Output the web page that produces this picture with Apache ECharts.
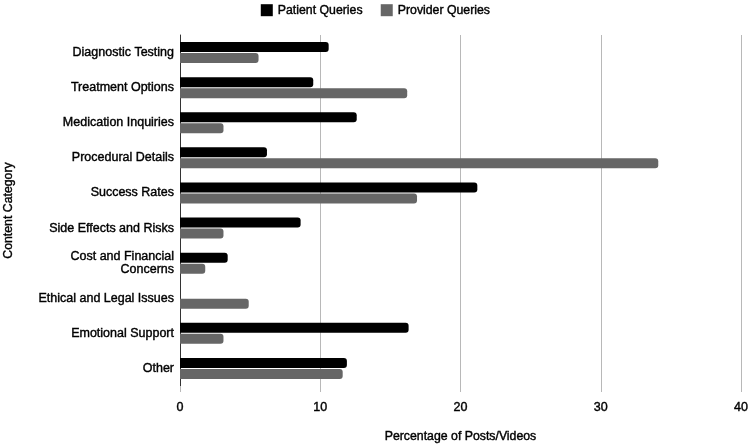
<!DOCTYPE html>
<html>
<head>
<meta charset="UTF-8">
<script src="https://cdn.jsdelivr.net/npm/echarts@6/dist/echarts.min.js"></script>
<title>Content Category</title>
<style>
  html, body { margin: 0; padding: 0; background: #fff; }
  #container { width: 751px; height: 444px; }
</style>
</head>
<body>
<div id="container"></div>
<script>
// data (percent of posts/videos)
var categories = ['Diagnostic Testing', 'Treatment Options', 'Medication Inquiries', 'Procedural Details',
  'Success Rates', 'Side Effects and Risks', 'Cost and Financial\nConcerns', 'Ethical and Legal Issues',
  'Emotional Support', 'Other'];
var patientQueries = [10.6, 9.5, 12.6, 6.2, 21.2, 8.6, 3.4, 0, 16.3, 11.9];
var providerQueries = [5.6, 16.2, 3.1, 34.1, 16.9, 3.1, 1.8, 4.9, 3.1, 11.6];
var xTicks = [0, 10, 20, 30, 40];

var font = 'Arial, "Liberation Sans", sans-serif';
var txt = '#000';
// text in the original looks a bit heavier than plain Arial, thicken it slightly
var heavy = { textBorderColor: '#000', textBorderWidth: 0.4 };
var myChart = echarts.init(document.getElementById('container'));

var option = {
  textStyle: { fontFamily: font },
  legend: {
    top: -1,
    left: 'center',
    icon: 'rect',
    itemWidth: 12,
    itemHeight: 12,
    itemGap: 18,
    textStyle: Object.assign({ fontSize: 12.3, color: txt, fontFamily: font }, heavy),
    data: ['Patient Queries', 'Provider Queries']
  },
  grid: { left: 180, right: 10, top: 35, bottom: 58, containLabel: false, outerBoundsMode: 'none' },
  xAxis: {
    type: 'value',
    min: xTicks[0],
    max: xTicks[xTicks.length - 1],
    interval: 10,
    name: 'Percentage of Posts/Videos',
    nameLocation: 'middle',
    nameGap: 45,
    nameTextStyle: Object.assign({ fontSize: 12.3, color: txt, fontFamily: font }, heavy),
    axisLine: { show: false },
    axisTick: { show: true, length: 6, lineStyle: { color: '#b8b8b8' } },
    axisLabel: Object.assign({ fontSize: 12.5, color: txt, margin: 15, fontFamily: font }, heavy),
    splitLine: { show: true, lineStyle: { color: '#b8b8b8', width: 1 } }
  },
  yAxis: {
    type: 'category',
    inverse: true,
    data: categories,
    name: 'Content Category',
    nameLocation: 'middle',
    nameRotate: 90,
    nameGap: 165,
    nameTextStyle: Object.assign({ fontSize: 12.3, color: txt, fontFamily: font }, heavy),
    axisLine: { show: true, lineStyle: { color: '#333', width: 1 } },
    axisTick: { show: false },
    axisLabel: Object.assign({ fontSize: 12.5, color: txt, margin: 6, lineHeight: 13, fontFamily: font }, heavy)
  },
  series: [
    {
      name: 'Patient Queries',
      type: 'bar',
      data: patientQueries,
      barWidth: 10,
      barGap: '10%',
      itemStyle: { color: '#000000', borderRadius: [0, 3, 3, 0] }
    },
    {
      name: 'Provider Queries',
      type: 'bar',
      data: providerQueries,
      barWidth: 10,
      barGap: '10%',
      itemStyle: { color: '#666666', borderRadius: [0, 3, 3, 0] }
    }
  ]
};

myChart.setOption(option, true);
</script>
</body>
</html>
